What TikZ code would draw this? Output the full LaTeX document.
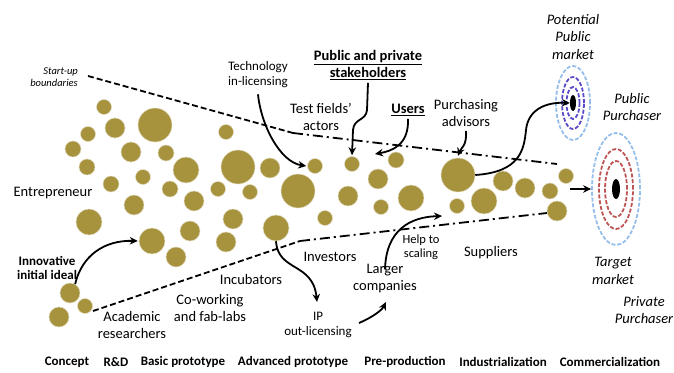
\documentclass[tikz,border=0pt]{standalone}
\usepackage{fontspec}
\setmainfont{Carlito}
\usetikzlibrary{arrows.meta,shapes.geometric}
\definecolor{dotgold}{RGB}{167,147,62}
\definecolor{lblue}{RGB}{150,190,235}
\definecolor{dblue}{RGB}{90,75,200}
\definecolor{dred}{RGB}{190,85,85}
\tikzset{
  dot/.style={circle, fill=dotgold, draw=dotgold!35!white, line width=0.5pt, inner sep=0pt},
  lbl/.style={font=\fontsize{14.5}{17}\selectfont, align=center, inner sep=0pt},
  lblit/.style={font=\fontsize{14.5}{17.5}\selectfont\itshape, align=center, inner sep=0pt},
  lblsm/.style={font=\fontsize{13}{15}\selectfont, align=center, inner sep=0pt},
  stage/.style={font=\fontsize{13}{15}\selectfont\bfseries, inner sep=0pt},
  arr/.style={line width=1.8pt, -{Stealth[length=8pt,width=7.5pt]}},
  bdash/.style={line width=1.8pt, dash pattern=on 6pt off 3pt},
  bdashdot/.style={line width=1.8pt, dash pattern=on 10pt off 4pt on 2pt off 4pt},
  ring/.style={ellipse, inner sep=0pt, line width=1.8pt, dash pattern=on 4pt off 1.8pt},
  blob/.style={ellipse, inner sep=0pt, fill=black},
}
\begin{document}
\begin{tikzpicture}[x=1pt,y=-1pt]
\useasboundingbox (0,0) rectangle (674,372);
% circles
\foreach \cx/\cy/\r [count=\i] in {
104/107/7.5, 115/128/10, 88/134/7.5, 155/125/17, 73/149/8, 131/152/10,
166/153/8, 87/167/8, 186/170/13, 143/177/7.5, 111/184/8, 170/189/8,
134/205/10, 194/201/10, 89/222/13, 190/231/10, 152/241/13, 176/257/10,
226/132/7.5, 238/167/17, 270/168/10, 218/189/7.5, 250/192/7.5, 233/219/10,
226/242/10, 298/191/17, 315/166/7.5, 276/228/13, 325/218/7.5, 352/164/7.5,
378/179/10, 348/196/10, 381/207/7.5, 396/160/8, 411/198/13, 458/175/17,
457/206/7.5, 484/201/13, 503/181/10, 525/188/10, 550/191/8, 566/176/7.5,
557/211/10, 70/293/10, 85/306/7.5, 59/317/10}
  \node[dot, minimum size={2*\r}] (c\i) at (\cx,\cy) {};
% boundaries
\coordinate (ub1) at (88,76);
\coordinate (ub2) at (293,133);
\coordinate (ub3) at (557,164);
\coordinate (lb1) at (93,311);
\coordinate (lb2) at (300,241);
\coordinate (lb3) at (547,213);
\draw[bdash] (ub1) -- (ub2);
\draw[bdashdot] (ub2) -- (ub3);
\draw[bdash] (lb1) -- (lb2);
\draw[bdashdot] (lb2) -- (lb3);
% target markets
\coordinate (pm) at (573,103);
\coordinate (tm) at (616,189);
\node[ring, draw=lblue, minimum width=34, minimum height=74] (pmout) at (pm) {};
\node[ring, draw=dblue, minimum width=22, minimum height=52] (pmmid) at (pm) {};
\node[ring, draw=dblue, minimum width=13, minimum height=32] (pmin) at (pm) {};
\node[blob, minimum width=6, minimum height=16] (pmblob) at (pm) {};
\node[ring, draw=lblue, minimum width=48, minimum height=112] (tmout) at (tm) {};
\node[ring, draw=dred, minimum width=34, minimum height=80] (tmmid) at (tm) {};
\node[ring, draw=dred, minimum width=22, minimum height=56] (tmin) at (tm) {};
\node[blob, minimum width=8, minimum height=20] (tmblob) at (tm) {};
% labels
\node[font=\fontsize{10.5}{12.5}\selectfont\itshape, align=right, anchor=east, inner sep=0pt] (startup) at (78,77) {Start-up\\boundaries};
\node[lbl] (entre) at (53,193) {Entrepreneur};
\node[lblsm] (tech) at (258,75) {Technology\\in-licensing};
\node[lbl, font=\fontsize{14.5}{17}\selectfont\bfseries] (pps) at (368,65) {\underline{Public and private}\\\underline{stakeholders}};
\node[lbl] (test) at (321,117) {Test fields'\\actors};
\node[lbl, font=\fontsize{14.5}{17}\selectfont\bfseries] (users) at (408,110) {\underline{Users}};
\node[lbl] (purch) at (466,113) {Purchasing\\advisors};
\node[lblit] (potpub) at (573,37) {Potential\\Public\\market};
\node[lblit] (pubpur) at (632,107) {Public\\Purchaser};
\node[lblit] (target) at (613,271) {Target\\market};
\node[lblit] (privpur) at (644,310) {Private\\Purchaser};
\node[font=\fontsize{13}{14}\selectfont\bfseries, align=center, inner sep=0pt] (innov) at (47,268) {Innovative\\initial ideal};
\node[lbl] (acad) at (132,325) {Academic\\researchers};
\node[lbl] (cowork) at (210,308) {Co-working\\and fab-labs};
\node[lbl] (incub) at (251,280) {Incubators};
\node[lblsm] (ip) at (318,325) {IP\\out-licensing};
\node[lbl] (invest) at (330,257) {Investors};
\node[lbl] (larger) at (385,279) {Larger\\companies};
\node[font=\fontsize{12.5}{13.5}\selectfont, align=center, inner sep=0pt] (help) at (421,247) {Help to\\scaling};
\node[lbl] (suppl) at (491,253) {Suppliers};
% stages
\node[stage] (s1) at (67,362) {Concept};
\node[stage] (s2) at (116,362) {R\&D};
\node[stage] (s3) at (183,362) {Basic prototype};
\node[stage] (s4) at (293,362) {Advanced prototype};
\node[stage] (s5) at (405,362) {Pre-production};
\node[stage] (s6) at (503,362) {Industrialization};
\node[stage] (s7) at (610,362) {Commercialization};
% arrow free ends
\coordinate (usersend) at (375,154);
\coordinate (tmstart) at (570,189);
\coordinate (ipend) at (317,302);
\coordinate (ipstart) at (359,323);
\coordinate (largerend) at (386,302);
\coordinate (helpend) at (442,216);
% arrows
\draw[arr] ([yshift=-6pt]tech.south) .. controls (261,125) and (280,162) .. ([xshift=-1pt]c27.west);
\draw[arr] ([yshift=-3pt]pps.south) -- (367,110) .. controls (366,121) and (354,118) .. (353,130) -- ([yshift=1pt]c30.north);
\draw[arr] ([yshift=-3pt]users.south) .. controls (409,145) and (392,151) .. (usersend);
\draw[arr] ([yshift=-4pt]purch.south) .. controls (467,146) and (461,148) .. ([yshift=2pt]c36.north);
\draw[arr] (c36.east) .. controls (520,172) and (524,150) .. (526,130) .. controls (528,110) and (545,102) .. (pmblob.west);
\draw[arr] (tmstart) -- (tmout.west);
\draw[arr] (c44.60) .. controls (82,255) and (105,240) .. ([xshift=-1pt]c17.west);
\draw[arr] (c28.south) .. controls (278,272) and (313,262) .. (ipend);
\draw[arr] (ipstart) .. controls (373,317) and (382,310) .. (largerend);
\draw[arr] ([yshift=-5pt]larger.north) .. controls (386,230) and (410,217) .. (helpend);
\end{tikzpicture}
\end{document}
